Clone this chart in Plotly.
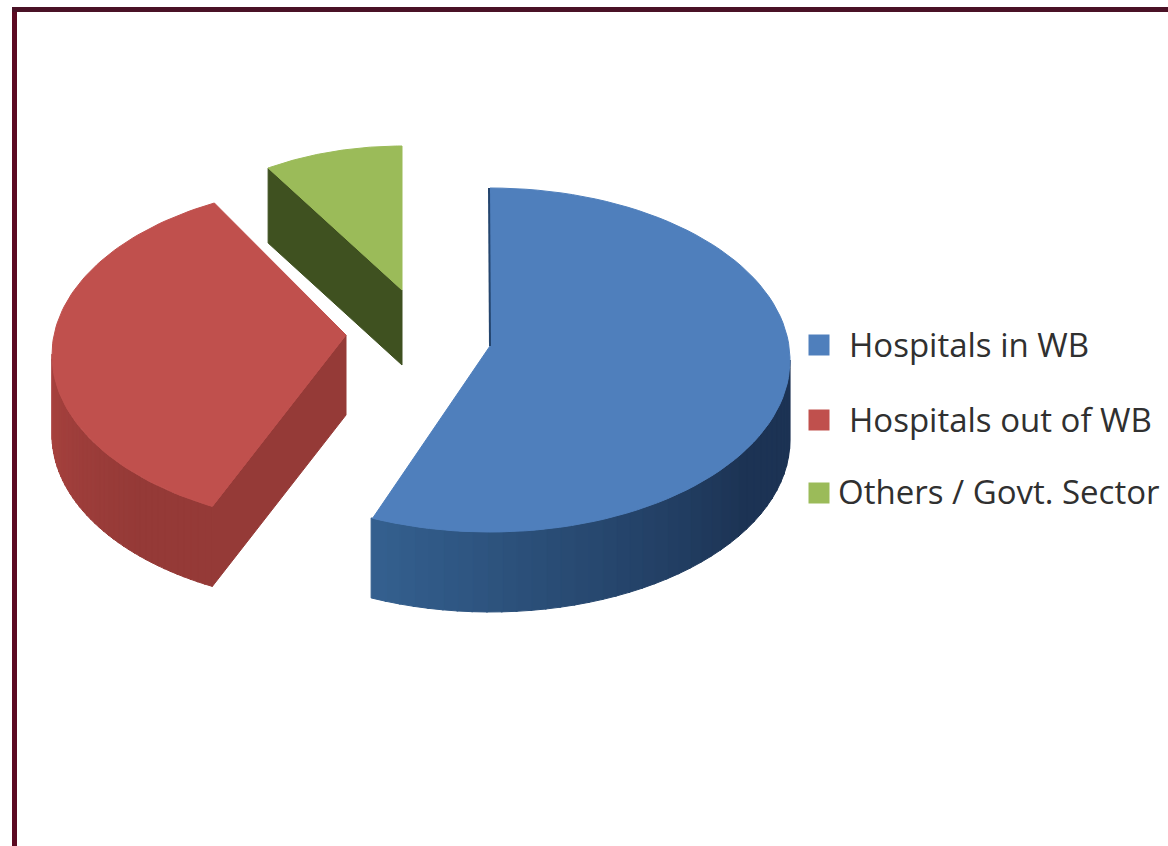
import numpy as np
import plotly.graph_objects as go

# Data
categories = ["Hospitals in WB", "Hospitals out of WB", "Others / Govt. Sector"]
shares = [56.4, 35.1, 8.5]

# Styles / layout of the exploded 3D look
top_colors = ["#4f7fbc", "#c0504d", "#9bbb59"]
wall_light = ["#34608f", "#a8423f", "#56702c"]
wall_dark = ["#1c3354", "#953a37", "#3f5120"]
apex_x = [490, 346, 402]
apex_y = [346, 335, 290]
rad_x = [300, 294, 263]
rad_y = [172, 170, 158]
ellipse_drop = [14, 20, 14]
depth = [80, 80, 75]
angle_shift = [0, 4, 0]
legend_marker_x = [819, 819, 819]
legend_text_x = [849, 849, 838]
legend_y = [345, 420, 493]
legend_text_y = [349, 424, 496]

frac = np.cumsum([0] + shares) / sum(shares) * 360.0
fig = go.Figure()


def point(i, deg):
    t = np.radians(deg)
    return (apex_x[i] + rad_x[i] * np.sin(t),
            apex_y[i] + ellipse_drop[i] - rad_y[i] * np.cos(t))


def poly(xs, ys, color):
    fig.add_trace(go.Scatter(x=xs, y=ys, mode="lines", fill="toself", fillcolor=color,
                             line=dict(color=color, width=1), hoverinfo="skip",
                             showlegend=False))


def mix(a, b, f):
    ca = [int(a[k:k + 2], 16) for k in (1, 3, 5)]
    cb = [int(b[k:k + 2], 16) for k in (1, 3, 5)]
    return "#" + "".join(f"{round(x + (y - x) * f):02x}" for x, y in zip(ca, cb))


for i in range(3):
    start = frac[i] + angle_shift[i]
    end = frac[i + 1] + angle_shift[i]
    d = depth[i]
    # radial side wall facing the viewer
    if i > 0:
        ex, ey = point(i, start)
        poly([apex_x[i], ex, ex, apex_x[i], apex_x[i]],
             [apex_y[i], ey, ey + d, apex_y[i] + d, apex_y[i]], wall_dark[i])
    # curved outer wall, painted in shaded strips
    lo, hi = max(start, 90), min(end, 270)
    if hi > lo:
        edges = np.linspace(lo, hi, 41)
        for k in range(40):
            a, b = edges[k], edges[k + 1]
            f = (hi - (a + b) / 2) / (hi - lo)
            ts = np.linspace(a, b + 0.3, 3)
            pts = [point(i, v) for v in ts]
            xs = [p[0] for p in pts] + [p[0] for p in pts[::-1]] + [pts[0][0]]
            ys = [p[1] for p in pts] + [p[1] + d for p in pts[::-1]] + [pts[0][1]]
            c = mix(wall_light[i], wall_dark[i], min(1, f * 1.4))
            poly(xs, ys, c)
    # top face
    ts = np.linspace(start, end, 90)
    pts = [point(i, v) for v in ts]
    poly([apex_x[i]] + [p[0] for p in pts] + [apex_x[i]],
         [apex_y[i]] + [p[1] for p in pts] + [apex_y[i]], top_colors[i])

# dark edge on the blue slice's straight side
sx, sy = point(0, 0)
fig.add_trace(go.Scatter(x=[sx - 1, apex_x[0]], y=[sy, apex_y[0]], mode="lines",
                         line=dict(color="#24456e", width=2), hoverinfo="skip",
                         showlegend=False))

# legend
for i, name in enumerate(categories):
    fig.add_trace(go.Scatter(x=[legend_marker_x[i]], y=[legend_y[i]], mode="markers",
                             marker=dict(symbol="square", size=21, color=top_colors[i]),
                             hoverinfo="skip", showlegend=False))
    fig.add_trace(go.Scatter(x=[legend_text_x[i]], y=[legend_text_y[i]], mode="text",
                             text=[name], textposition="middle right",
                             textfont=dict(family="Open Sans", size=33, color="#303030"),
                             hoverinfo="skip", showlegend=False))

fig.update_layout(
    width=1168, height=846, margin=dict(l=0, r=0, t=0, b=0),
    paper_bgcolor="white", plot_bgcolor="white",
    xaxis=dict(range=[0, 1168], visible=False, fixedrange=True),
    yaxis=dict(range=[846, 0], visible=False, fixedrange=True),
    shapes=[
        dict(type="line", x0=14.5, x1=14.5, y0=7, y1=846, line=dict(color="#5c0a22", width=5)),
        dict(type="line", x0=12, x1=1168, y0=9.5, y1=9.5, line=dict(color="#4a1226", width=5)),
    ],
)
fig.write_html("out.html", config={"displayModeBar": False},
               post_script="document.body.style.margin='0';document.documentElement.style.overflow='hidden';")
